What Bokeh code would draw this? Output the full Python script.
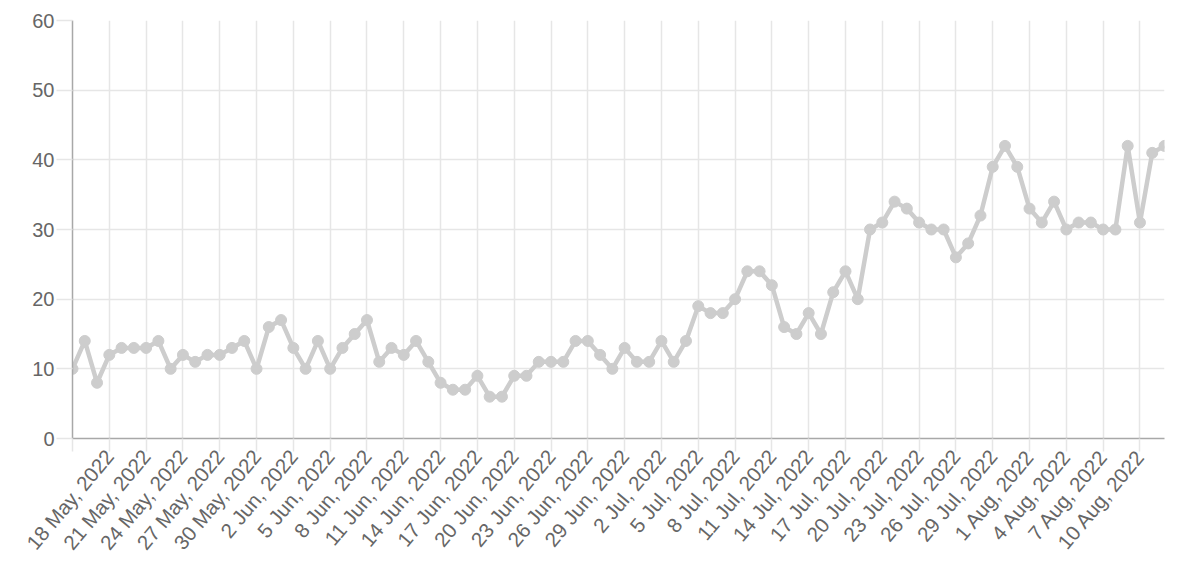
import math
from bokeh.plotting import figure
from bokeh.models import Range1d, FixedTicker, ColumnDataSource
from bokeh.embed import file_html
from bokeh.resources import INLINE

# Day index 0 = 15 May 2022, one point per day up to 12 Aug 2022
values = [10, 14, 8, 12, 13, 13, 13, 14, 10, 12,
          11, 12, 12, 13, 14, 10, 16, 17, 13, 10,
          14, 10, 13, 15, 17, 11, 13, 12, 14, 11,
          8, 7, 7, 9, 6, 6, 9, 9, 11, 11,
          11, 14, 14, 12, 10, 13, 11, 11, 14, 11,
          14, 19, 18, 18, 20, 24, 24, 22, 16, 15,
          18, 15, 21, 24, 20, 30, 31, 34, 33, 31,
          30, 30, 26, 28, 32, 39, 42, 39, 33, 31,
          34, 30, 31, 31, 30, 30, 42, 31, 41, 42]
days = list(range(len(values)))

tick_days = [0, 3, 6, 9, 12, 15, 18, 21, 24, 27, 30, 33, 36, 39, 42, 45, 48,
             51, 54, 57, 60, 63, 66, 69, 72, 75, 78, 81, 84, 87]
tick_labels = ["", "18 May, 2022", "21 May, 2022", "24 May, 2022", "27 May, 2022",
               "30 May, 2022", "2 Jun, 2022", "5 Jun, 2022", "8 Jun, 2022",
               "11 Jun, 2022", "14 Jun, 2022", "17 Jun, 2022", "20 Jun, 2022",
               "23 Jun, 2022", "26 Jun, 2022", "29 Jun, 2022", "2 Jul, 2022",
               "5 Jul, 2022", "8 Jul, 2022", "11 Jul, 2022", "14 Jul, 2022",
               "17 Jul, 2022", "20 Jul, 2022", "23 Jul, 2022", "26 Jul, 2022",
               "29 Jul, 2022", "1 Aug, 2022", "4 Aug, 2022", "7 Aug, 2022",
               "10 Aug, 2022"]
y_ticks = [0, 10, 20, 30, 40, 50, 60]

src = ColumnDataSource(dict(x=days, y=values))

p = figure(width=1174, height=572, output_backend="svg", toolbar_location=None,
           x_range=Range1d(0, len(values) - 1), y_range=Range1d(0, 60),
           min_border_left=72, min_border_top=20, min_border_right=10,
           min_border_bottom=134)
p.outline_line_color = None
p.background_fill_color = "white"

LINE = "#cdcdcd"
p.line("x", "y", source=src, line_color=LINE, line_width=4.5, line_join="round")
p.scatter("x", "y", source=src, size=11, fill_color=LINE, line_color=LINE)

GRID = "#e6e6e6"
AXIS = "#a8a8a8"
TEXT = "#666666"
FONT = "Liberation Sans"

p.xaxis.ticker = FixedTicker(ticks=tick_days)
p.xaxis.major_label_overrides = {d: lab for d, lab in zip(tick_days, tick_labels)}
p.xaxis.major_label_orientation = math.radians(50)
p.yaxis.ticker = FixedTicker(ticks=y_ticks)

for ax in (p.xaxis[0], p.yaxis[0]):
    ax.axis_line_color = AXIS
    ax.axis_line_width = 1.5
    ax.major_tick_line_color = GRID
    ax.major_tick_line_width = 1.5
    ax.minor_tick_line_color = None
    ax.major_tick_in = 0
    ax.major_label_text_color = TEXT
    ax.major_label_text_font = FONT

p.xaxis.major_label_text_font_size = "20.5px"
p.yaxis.major_label_text_font_size = "20px"
p.yaxis.major_tick_out = 16
p.yaxis.major_label_standoff = 2
p.xaxis.major_tick_out = 13
p.xaxis.major_label_standoff = 1

p.xgrid.ticker = FixedTicker(ticks=tick_days)
p.ygrid.ticker = FixedTicker(ticks=y_ticks)
p.grid.grid_line_color = GRID
p.grid.grid_line_width = 1.5

open("out.html", "w").write(file_html(p, INLINE))
